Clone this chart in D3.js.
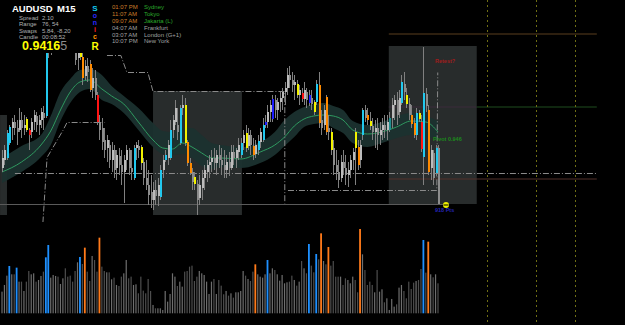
<!DOCTYPE html>
<html>
<head>
<meta charset="utf-8">
<script src="https://cdn.jsdelivr.net/npm/d3@7"></script>
<style>
body { margin: 0; background: #000; overflow: hidden; }
svg { display: block; }
text { font-family: Arial, "Liberation Sans", sans-serif; }
</style>
</head>
<body>
<svg id="chart" width="625" height="325"></svg>
<script>
// AUDUSD M15, 180 bars, oldest first
const open = [0.9452,0.9460,0.9462,0.9477,0.9492,0.9498,0.9492,0.9490,0.9500,0.9492,
0.9501,0.9490,0.9488,0.9498,0.9504,0.9495,0.9500,0.9507,0.9504,0.9568,
0.9580,0.9582,0.9592,0.9600,0.9590,0.9595,0.9605,0.9598,0.9588,0.9582,
0.9575,0.9562,0.9570,0.9563,0.9544,0.9554,0.9556,0.9532,0.9542,0.9525,
0.9498,0.9492,0.9480,0.9472,0.9475,0.9460,0.9470,0.9452,0.9464,0.9455,
0.9448,0.9460,0.9470,0.9452,0.9442,0.9472,0.9474,0.9473,0.9458,0.9442,
0.9435,0.9428,0.9420,0.9430,0.9424,0.9423,0.9450,0.9460,0.9462,0.9462,
0.9490,0.9498,0.9495,0.9477,0.9512,0.9515,0.9478,0.9457,0.9448,0.9443,
0.9436,0.9422,0.9432,0.9442,0.9448,0.9455,0.9458,0.9462,0.9457,0.9465,
0.9460,0.9455,0.9450,0.9458,0.9452,0.9468,0.9462,0.9468,0.9465,0.9477,
0.9487,0.9474,0.9485,0.9474,0.9466,0.9470,0.9478,0.9480,0.9495,0.9498,
0.9508,0.9501,0.9520,0.9510,0.9518,0.9522,0.9528,0.9532,0.9545,0.9540,
0.9535,0.9536,0.9525,0.9527,0.9521,0.9528,0.9517,0.9522,0.9518,0.9518,
0.9535,0.9500,0.9495,0.9523,0.9492,0.9488,0.9472,0.9455,0.9448,0.9442,
0.9458,0.9452,0.9445,0.9450,0.9460,0.9488,0.9473,0.9460,0.9485,0.9510,
0.9505,0.9499,0.9494,0.9488,0.9492,0.9485,0.9490,0.9495,0.9490,0.9490,
0.9502,0.9515,0.9520,0.9508,0.9517,0.9536,0.9525,0.9516,0.9505,0.9497,
0.9485,0.9507,0.9498,0.9463,0.9526,0.9510,0.9452,0.9467,0.9447,0.9472];
const high = [0.9470,0.9475,0.9490,0.9495,0.9502,0.9505,0.9500,0.9512,0.9508,0.9505,
0.9503,0.9492,0.9502,0.9510,0.9508,0.9505,0.9512,0.9514,0.9575,0.9590,
0.9595,0.9598,0.9605,0.9608,0.9602,0.9610,0.9612,0.9608,0.9600,0.9592,
0.9580,0.9575,0.9575,0.9568,0.9560,0.9562,0.9560,0.9552,0.9550,0.9528,
0.9505,0.9502,0.9492,0.9485,0.9480,0.9478,0.9475,0.9470,0.9472,0.9470,
0.9465,0.9475,0.9472,0.9470,0.9475,0.9478,0.9480,0.9475,0.9462,0.9460,
0.9450,0.9445,0.9438,0.9440,0.9442,0.9455,0.9465,0.9470,0.9480,0.9500,
0.9505,0.9520,0.9512,0.9515,0.9525,0.9522,0.9480,0.9462,0.9452,0.9448,
0.9440,0.9445,0.9450,0.9455,0.9460,0.9465,0.9470,0.9472,0.9470,0.9475,
0.9472,0.9470,0.9465,0.9468,0.9475,0.9475,0.9472,0.9482,0.9482,0.9490,
0.9495,0.9492,0.9490,0.9482,0.9480,0.9485,0.9492,0.9502,0.9505,0.9515,
0.9520,0.9525,0.9525,0.9522,0.9528,0.9532,0.9538,0.9552,0.9554,0.9548,
0.9545,0.9540,0.9535,0.9532,0.9538,0.9532,0.9530,0.9530,0.9520,0.9540,
0.9548,0.9510,0.9515,0.9525,0.9505,0.9492,0.9480,0.9470,0.9460,0.9465,
0.9470,0.9465,0.9458,0.9465,0.9472,0.9492,0.9480,0.9480,0.9512,0.9515,
0.9512,0.9508,0.9502,0.9500,0.9502,0.9498,0.9502,0.9505,0.9505,0.9508,
0.9522,0.9525,0.9528,0.9530,0.9545,0.9548,0.9532,0.9522,0.9515,0.9502,
0.9512,0.9510,0.9505,0.9573,0.9532,0.9515,0.9475,0.9470,0.9475,0.9475];
const low = [0.9448,0.9455,0.9460,0.9475,0.9480,0.9485,0.9475,0.9488,0.9482,0.9485,
0.9488,0.9470,0.9482,0.9490,0.9488,0.9485,0.9492,0.9490,0.9502,0.9562,
0.9565,0.9572,0.9580,0.9582,0.9578,0.9585,0.9590,0.9580,0.9575,0.9570,
0.9555,0.9550,0.9560,0.9535,0.9540,0.9538,0.9528,0.9522,0.9520,0.9495,
0.9480,0.9470,0.9462,0.9458,0.9452,0.9448,0.9442,0.9440,0.9445,0.9435,
0.9417,0.9450,0.9445,0.9440,0.9440,0.9460,0.9462,0.9450,0.9435,0.9430,
0.9415,0.9412,0.9410,0.9415,0.9414,0.9420,0.9442,0.9458,0.9455,0.9460,
0.9482,0.9495,0.9480,0.9475,0.9505,0.9474,0.9454,0.9445,0.9430,0.9430,
0.9405,0.9415,0.9420,0.9430,0.9438,0.9442,0.9448,0.9450,0.9445,0.9452,
0.9445,0.9442,0.9442,0.9444,0.9450,0.9455,0.9452,0.9460,0.9462,0.9470,
0.9468,0.9470,0.9465,0.9460,0.9462,0.9465,0.9472,0.9478,0.9492,0.9492,
0.9498,0.9498,0.9502,0.9500,0.9508,0.9510,0.9515,0.9525,0.9532,0.9528,
0.9520,0.9522,0.9515,0.9518,0.9515,0.9512,0.9514,0.9510,0.9505,0.9515,
0.9492,0.9485,0.9490,0.9485,0.9480,0.9465,0.9445,0.9440,0.9432,0.9438,
0.9445,0.9435,0.9433,0.9442,0.9450,0.9435,0.9450,0.9452,0.9480,0.9498,
0.9495,0.9490,0.9480,0.9472,0.9470,0.9475,0.9480,0.9482,0.9480,0.9488,
0.9492,0.9500,0.9495,0.9502,0.9515,0.9520,0.9512,0.9500,0.9492,0.9482,
0.9480,0.9498,0.9468,0.9435,0.9508,0.9445,0.9440,0.9435,0.9444,0.9416];
const close = [0.9462,0.9470,0.9487,0.9493,0.9498,0.9492,0.9488,0.9500,0.9492,0.9495,
0.9490,0.9485,0.9498,0.9505,0.9495,0.9500,0.9508,0.9502,0.9570,0.9582,
0.9590,0.9592,0.9600,0.9590,0.9595,0.9605,0.9598,0.9588,0.9582,0.9575,
0.9560,0.9568,0.9563,0.9542,0.9554,0.9548,0.9530,0.9542,0.9525,0.9498,
0.9490,0.9478,0.9470,0.9480,0.9460,0.9470,0.9450,0.9465,0.9455,0.9448,
0.9460,0.9470,0.9452,0.9448,0.9472,0.9475,0.9470,0.9457,0.9442,0.9435,
0.9425,0.9420,0.9430,0.9424,0.9435,0.9450,0.9460,0.9465,0.9475,0.9490,
0.9500,0.9512,0.9488,0.9512,0.9515,0.9477,0.9457,0.9447,0.9438,0.9436,
0.9420,0.9435,0.9442,0.9450,0.9455,0.9458,0.9462,0.9457,0.9465,0.9460,
0.9455,0.9450,0.9458,0.9452,0.9468,0.9462,0.9470,0.9475,0.9477,0.9485,
0.9472,0.9485,0.9475,0.9465,0.9475,0.9479,0.9488,0.9495,0.9498,0.9508,
0.9515,0.9521,0.9510,0.9518,0.9522,0.9528,0.9532,0.9545,0.9540,0.9535,
0.9538,0.9525,0.9530,0.9521,0.9530,0.9520,0.9525,0.9516,0.9508,0.9536,
0.9497,0.9492,0.9510,0.9488,0.9488,0.9470,0.9455,0.9448,0.9440,0.9458,
0.9452,0.9445,0.9450,0.9460,0.9468,0.9472,0.9455,0.9475,0.9510,0.9502,
0.9500,0.9494,0.9488,0.9492,0.9485,0.9490,0.9495,0.9490,0.9498,0.9502,
0.9515,0.9520,0.9505,0.9522,0.9538,0.9528,0.9516,0.9505,0.9496,0.9485,
0.9507,0.9501,0.9471,0.9527,0.9514,0.9448,0.9470,0.9442,0.9472,0.94165];
// g plain, c cyan, y yellow, o orange, r red, b blue, t teal
const candleTone = ("ggccgggggg" + "yrggggggcc" + "gggggggggg" + "ggyoggoggr" + "gggggggggg" +
  "ggggcggygg" + "gggggcgcgc" + "gggcgyoogy" + "gggggggggg" + "ggggggggcg" +
  "yggogcgcbg" + "gbgggggggg" + "gygrggbgyc" + "oggogygggg" + "gggggyogcg" +
  "oygggggggt" + "ggggcgygoo" + "cyrcgoggcg").split("");

const volume = [260,340,452,568,468,468,548,380,380,268,
380,508,468,480,380,400,448,500,672,820,
428,460,448,440,352,420,540,440,452,380,
508,612,676,592,788,500,388,688,640,500,
908,560,508,492,492,408,428,340,328,440,
480,640,420,440,340,348,240,440,272,240,
412,268,100,60,60,60,40,268,140,232,
480,440,328,380,320,500,508,560,572,388,
440,508,480,460,380,232,380,412,232,400,
332,228,268,212,240,188,252,252,268,508,
452,412,388,500,588,468,440,428,468,640,
480,540,520,468,392,460,360,372,380,452,
400,332,380,628,540,480,832,572,492,712,
648,960,628,588,796,572,628,440,440,440,
340,420,400,360,440,400,252,1012,708,520,
340,380,340,252,520,260,288,132,180,40,
172,80,108,308,340,268,180,380,292,368,
388,400,532,880,488,860,468,432,468,360];
// n normal, b blue spike, o orange spike
const volumeTone = ("nnnbnnbnnn" + "nnnnnnnnbb" + "nnnnnnnnnn" + "nnbnonnnnn" + "onnnnnnnnn" +
  "nnnnnnnnnn" + "nnnnnnnnnn" + "nnnnnnnnnn" + "nnnnnnnnnn" + "nnnnnnnnnn" +
  "nnnnonnnnb" + "nnnnnnnnnn" + "nnnnnnbnnb" + "nonnonnnnn" + "nnnnnnnonn" +
  "nnnnnnnnnn" + "nnnnnnnnnn" + "nnnbnonnnn").split("");

// dragon band (high / mid / low), read at these bars
const dragonAt = [0,8,16,20,24,28,32,36,41,45,50,56,62,66,70,74,78,82,86,90,98,106,112,116,120,124,128,132,136,140,144,150,156,162,168,174,179];
const dragonHigh = [0.9462,0.9474,0.9485,0.9504,0.9528,0.9541,0.9550,0.9551,0.9545,0.9534,0.9524,0.9512,0.9497,0.9489,0.9488,0.9492,0.9492,0.9485,0.9477,0.9475,0.9473,0.9478,0.9488,0.9500,0.9508,0.9513,0.9516,0.9517,0.9514,0.9510,0.9499,0.9495,0.9498,0.9504,0.9507,0.9504,0.9499];
const dragonMid = [0.9448,0.9458,0.9475,0.9489,0.9510,0.9528,0.9538,0.9540,0.9531,0.9524,0.9516,0.9498,0.9480,0.9472,0.9471,0.9477,0.9473,0.9467,0.9462,0.9462,0.9461,0.9468,0.9475,0.9483,0.9494,0.9501,0.9504,0.9505,0.9504,0.9500,0.9490,0.9486,0.9488,0.9493,0.9499,0.9498,0.9488];
const dragonLow = [0.9437,0.9448,0.9463,0.9475,0.9499,0.9517,0.9528,0.9531,0.9520,0.9516,0.9507,0.9490,0.9473,0.9466,0.9465,0.9466,0.9462,0.9454,0.9451,0.9453,0.9452,0.9457,0.9465,0.9474,0.9483,0.9493,0.9496,0.9497,0.9492,0.9487,0.9477,0.9473,0.9477,0.9482,0.9485,0.9484,0.9479];

// session boxes (bar index span, high, low)
const sessionFrom = [-0.8, 62.0, 158.8];
const sessionTo = [2.05, 98.5, 194.9];
const sessionHigh = [0.9505, 0.9529, 0.9574];
const sessionLow = [0.9405, 0.9405, 0.9416];

// stepped channel lines
const stepAIdx = [16.8, 18.5, 25.0, 26.7, 42.3];
const stepAPx = [0.9398, 0.9463, 0.9490, 0.9498, 0.9498];
const stepBIdx = [43.1, 48.8, 51.3, 59.9, 62.0, 116.1, 116.1];
const stepBPx = [0.9565, 0.9565, 0.9548, 0.9548, 0.9529, 0.9529, 0.9417];
const stepCIdx = [117.4, 178.5, 178.9];
const stepCPx = [0.9430, 0.9430, 0.9548];

// horizontal levels
const pivotLevel = 0.9447;
const dayLow = 0.9416;
const rightLevels = [0.9586, 0.9513, 0.9441];
const timeLines = [199.0, 219.1, 235.1];

const statLabels = ["Spread", "Range", "Swaps", "Candle"];
const statValues = ["2.10", "76, 54", "5.84, -8.20", "00:08:52"];
const clockTimes = ["01:07 PM", "11:07 AM", "09:07 AM", "04:07 AM", "03:07 AM", "10:07 PM"];
const clockCities = ["Sydney", "Tokyo", "Jakarta  (L)", "Frankfurt", "London  (G+1)", "New York"];
const clockOpen = [true, true, true, false, false, false];
const sonicLetters = ["S", "o", "n", "i", "c", "R"];

const svg = d3.select("#chart");
const n = open.length;
const x = d3.scaleLinear().domain([0, n - 1]).range([2, 438]);
const y = d3.scaleLinear().domain([0.9400, 0.9620]).range([220, 0]);
const yv = d3.scaleLinear().domain([0, 1000]).range([313.3, 230]);

const toneColor = {c: "#22c8ee", y: "#f2f200", o: "#ff8a00", r: "#ff1414", b: "#1e1eff", t: "#1f8f8f"};

svg.append("rect").attr("width", 625).attr("height", 325).attr("fill", "#000");
svg.append("clipPath").attr("id", "main").append("rect").attr("width", 625).attr("height", 222);
const main = svg.append("g").attr("clip-path", "url(#main)");

// session boxes
main.selectAll(".sess").data(sessionFrom).enter().append("rect")
  .attr("x", (d, i) => x(d)).attr("width", (d, i) => x(sessionTo[i]) - x(d))
  .attr("y", (d, i) => y(sessionHigh[i])).attr("height", (d, i) => y(sessionLow[i]) - y(sessionHigh[i]))
  .attr("fill", "#282c2c");

// right side level lines
const rx0 = x(sessionFrom[2]), rx1 = x(244.2), boxR = x(sessionTo[2]);
main.append("line").attr("x1", rx0).attr("x2", rx1).attr("y1", y(rightLevels[0])).attr("y2", y(rightLevels[0]))
  .attr("stroke", "#5a3f1e");
main.append("line").attr("x1", rx0).attr("x2", boxR).attr("y1", y(rightLevels[1])).attr("y2", y(rightLevels[1]))
  .attr("stroke", "#3a2a3a");
main.append("line").attr("x1", boxR).attr("x2", rx1).attr("y1", y(rightLevels[1])).attr("y2", y(rightLevels[1]))
  .attr("stroke", "#1e4d1e");
main.append("line").attr("x1", rx0).attr("x2", rx1).attr("y1", y(rightLevels[2])).attr("y2", y(rightLevels[2]))
  .attr("stroke", "#52302a");

// dragon band
const band = dragonAt.map((d, i) => ({i: d, h: dragonHigh[i], m: dragonMid[i], l: dragonLow[i]}));
main.append("path").datum(band)
  .attr("d", d3.area().x(d => x(d.i)).y0(d => y(d.l)).y1(d => y(d.h)).curve(d3.curveMonotoneX))
  .attr("fill", "#1b322f").attr("opacity", 0.95);
main.append("path").datum(band)
  .attr("d", d3.line().x(d => x(d.i)).y(d => y(d.m)).curve(d3.curveMonotoneX))
  .attr("fill", "none").attr("stroke", "#2f9a60").attr("stroke-width", 1);

// level lines
main.append("line").attr("x1", x(5.3)).attr("x2", rx1).attr("y1", y(pivotLevel) + 0.5).attr("y2", y(pivotLevel) + 0.5)
  .attr("stroke", "#8a8a8a").attr("stroke-dasharray", "6,2,1,2");
main.append("line").attr("x1", 0).attr("x2", x(181.8)).attr("y1", y(dayLow) + 0.5).attr("y2", y(dayLow) + 0.5)
  .attr("stroke", "#5a5a5a");

const stepLine = d3.line().x(d => x(d[0])).y(d => y(d[1]) + 0.5);
[[stepAIdx, stepAPx], [stepBIdx, stepBPx], [stepCIdx, stepCPx]].forEach(([ix, px]) => {
  main.append("path").datum(ix.map((d, i) => [d, px[i]]))
    .attr("d", stepLine).attr("fill", "none")
    .attr("stroke", "#8a8a8a").attr("stroke-dasharray", "6,2,1,2");
});

// candles
const bars = open.map((o, i) => ({i, o, h: high[i], l: low[i], c: close[i], tone: candleTone[i]}));
const cg = main.append("g").attr("shape-rendering", "crispEdges");
cg.selectAll(".wick").data(bars).enter().append("line")
  .attr("x1", d => Math.round(x(d.i)) + 0.5).attr("x2", d => Math.round(x(d.i)) + 0.5)
  .attr("y1", d => y(d.h)).attr("y2", d => y(d.l))
  .attr("stroke", "#808080");
cg.selectAll(".body").data(bars).enter().append("rect")
  .attr("x", d => Math.round(x(d.i)))
  .attr("width", 2)
  .attr("y", d => y(Math.max(d.o, d.c)))
  .attr("height", d => Math.max(1, Math.abs(y(d.o) - y(d.c))))
  .attr("fill", d => d.tone === "g" ? (d.c >= d.o ? "#bcbcbc" : "#8c8c8c") : toneColor[d.tone]);

// volume
const vol = volume.map((v, i) => ({i, v, tone: volumeTone[i], up: close[i] >= open[i]}));
svg.append("g").selectAll("rect").data(vol).enter().append("rect")
  .attr("x", d => x(d.i) - (d.tone === "n" ? 0.6 : 0.9))
  .attr("width", d => d.tone === "n" ? 1.2 : 1.8)
  .attr("y", d => yv(d.v)).attr("height", d => yv(0) - yv(d.v))
  .attr("fill", d => d.tone === "b" ? "#1e90ff" : d.tone === "o" ? "#ff7a1a" : (d.up ? "#6e6e6e" : "#4e4e4e"));

// time lines
svg.selectAll(".tl").data(timeLines).enter().append("line")
  .attr("x1", d => Math.round(x(d)) + 0.5).attr("x2", d => Math.round(x(d)) + 0.5)
  .attr("y1", 0).attr("y2", 322)
  .attr("stroke", "#6e6e14").attr("stroke-dasharray", "2,3");

// annotations
svg.append("text").attr("x", 435).attr("y", 63).attr("font-size", 5.5).attr("font-weight", "bold")
  .attr("fill", "#a01c1c").text("Retest?");
svg.append("text").attr("x", 433).attr("y", 141).attr("font-size", 5.5).attr("font-weight", "bold")
  .attr("fill", "#1c8a1c").text("Pivot 0.946");
svg.append("text").attr("x", 435).attr("y", 212).attr("font-size", 5.5).attr("font-weight", "bold")
  .attr("fill", "#2424b4").text("918 Pts");
svg.append("circle").attr("cx", 446).attr("cy", 205).attr("r", 3).attr("fill", "#f0f000");
svg.append("line").attr("x1", 443.5).attr("x2", 448.5).attr("y1", 205).attr("y2", 205).attr("stroke", "#000");

// info panel (covers the top of the chart)
svg.append("rect").attr("x", 0).attr("y", 0).attr("width", 385).attr("height", 53).attr("fill", "#000");
const info = svg.append("g");
info.append("text").attr("x", 12).attr("y", 12).attr("font-size", 9.5).attr("font-weight", "bold")
  .attr("fill", "#fff").text("AUDUSD");
info.append("text").attr("x", 57).attr("y", 12).attr("font-size", 9.5).attr("font-weight", "bold")
  .attr("fill", "#fff").text("M15");
statLabels.forEach((s, i) => {
  info.append("text").attr("x", 19).attr("y", 19.5 + i * 6.5).attr("font-size", 6).attr("fill", "#b0b0b0").text(s);
  info.append("text").attr("x", 42).attr("y", 19.5 + i * 6.5).attr("font-size", 6).attr("fill", "#b0b0b0").text(statValues[i]);
});
const bid = info.append("text").attr("x", 22).attr("y", 50).attr("font-size", 12.5).attr("font-weight", "bold");
bid.append("tspan").attr("fill", "#ffff00").text("0.9416");
bid.append("tspan").attr("fill", "#8c8c8c").attr("font-weight", "normal").text("5");

const sonicColor = ["#10c8f0", "#2a2aff", "#2a2aff", "#ff2020", "#ff9a00", "#ffff00"];
const sonicY = [10.7, 18.3, 25.3, 32, 39.3, 50];
sonicLetters.forEach((s, i) => {
  info.append("text").attr("x", 95).attr("y", sonicY[i]).attr("text-anchor", "middle")
    .attr("font-size", i === 0 ? 8 : i === 5 ? 10 : 7).attr("font-weight", "bold")
    .attr("fill", sonicColor[i]).text(s);
});
clockTimes.forEach((t, i) => {
  const yy = 9.3 + i * 6.8;
  info.append("text").attr("x", 112).attr("y", yy).attr("font-size", 6)
    .attr("fill", clockOpen[i] ? "#cc7e2a" : "#a0a0a0").text(t);
  info.append("text").attr("x", 144).attr("y", yy).attr("font-size", 6)
    .attr("fill", clockOpen[i] ? "#2aa82a" : "#a0a0a0").text(clockCities[i]);
});
</script>
</body>
</html>
